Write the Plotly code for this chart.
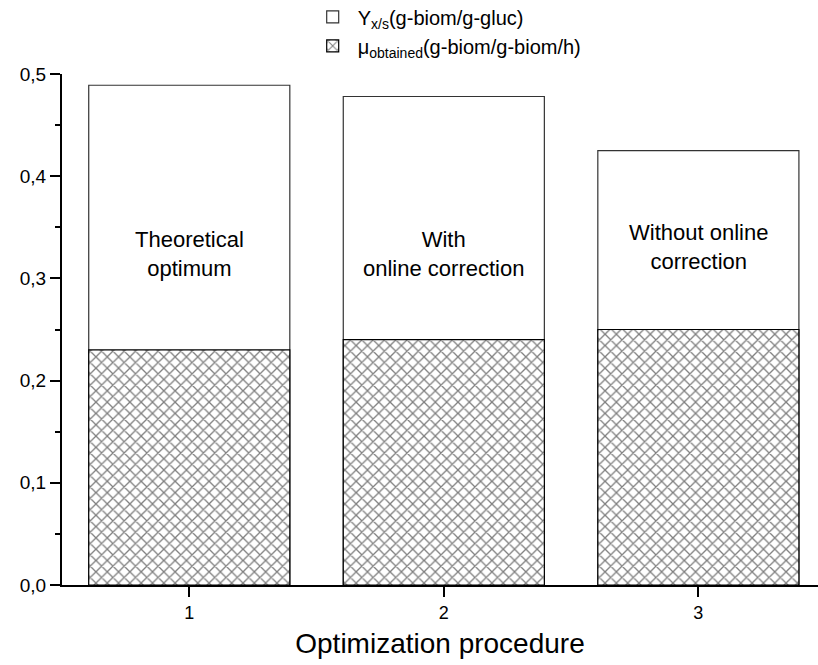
import plotly.graph_objects as go

categories = [1, 2, 3]
yield_xs = [0.489, 0.478, 0.425]
mu_obtained = [0.230, 0.240, 0.250]
bar_labels = ["Theoretical<br>optimum", "With<br>online correction", "Without online<br>correction"]
label_y = [0.324, 0.324, 0.331]

FONT = "Liberation Sans, Arial, sans-serif"

fig = go.Figure()
fig.add_trace(go.Bar(
    x=categories, y=yield_xs, width=0.79,
    name="Y<sub>x/s</sub>(g-biom/g-gluc)",
    marker=dict(color="white", line=dict(color="#333333", width=1.2)),
))
fig.add_trace(go.Bar(
    x=categories, y=mu_obtained, width=0.79,
    name="μ<sub>obtained</sub>(g-biom/g-biom/h)",
    marker=dict(color="white", line=dict(color="#000000", width=1.2),
                pattern=dict(shape="x", fgcolor="black", bgcolor="white", size=8, solidity=0.3)),
))

for xc, txt, yy in zip(categories, bar_labels, label_y):
    fig.add_annotation(x=xc, y=yy, text=txt, showarrow=False,
                       font=dict(family=FONT, size=22, color="black"), align="center")

fig.update_layout(
    width=818, height=665,
    barmode="overlay",
    separators=",.",
    paper_bgcolor="white", plot_bgcolor="white",
    margin=dict(l=62, r=0, t=74, b=80, autoexpand=False),
    font=dict(family=FONT, color="black"),
    showlegend=True,
    legend=dict(x=0.325, y=1.15, xanchor="left", yanchor="top",
                font=dict(family=FONT, size=20), bgcolor="rgba(0,0,0,0)", tracegroupgap=0,
                traceorder="normal", itemwidth=40),
    xaxis=dict(range=[0.5, 3.47], tickvals=categories, ticktext=[str(c) for c in categories],
               showline=True, linecolor="black", linewidth=2, ticks="outside", ticklen=10,
               tickwidth=2, tickcolor="black", showgrid=False, zeroline=False,
               tickfont=dict(family=FONT, size=18),
               title=dict(text="Optimization procedure", font=dict(family=FONT, size=28), standoff=12)),
    yaxis=dict(range=[0, 0.5], tickvals=[0, 0.1, 0.2, 0.3, 0.4, 0.5], tickformat=".1f",
               showline=True, linecolor="black", linewidth=2, ticks="outside", ticklen=10,
               tickwidth=2, tickcolor="black", showgrid=False, zeroline=False,
               tickfont=dict(family=FONT, size=19),
               minor=dict(dtick=0.05, ticks="outside", ticklen=5, tickwidth=2, tickcolor="black", showgrid=False)),
)

fig.write_html("out.html")
